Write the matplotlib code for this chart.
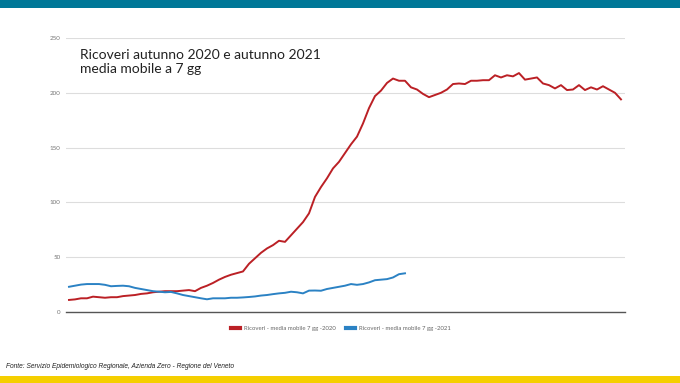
import matplotlib.pyplot as plt
import matplotlib.patches as mpatches
from matplotlib.lines import Line2D
import numpy as np

# media mobile 7 gg, ricoveri
ric2020 = [11, 11.5, 12.5, 12.5, 14, 13.5, 13, 13.5, 13.5, 14.5,
           15, 15.5, 16.5, 17, 18, 18.5, 19, 19, 19, 19.5,
           20, 19, 22, 24, 26.5, 29.5, 32, 34, 35.5, 37,
           44, 49, 54, 58, 61, 65, 64, 70, 76, 82,
           90, 105, 114, 122, 131, 137, 145, 153, 160, 172,
           186, 197, 202, 209, 213, 211, 211, 205, 203, 199,
           196, 198, 200, 203, 208, 208.5, 208, 211, 211, 211.5,
           211.5, 216, 214, 216, 215, 218, 212, 213, 214, 208.5,
           207, 204, 207, 202.5, 203, 207, 202.5, 205, 203, 206,
           203, 200, 194]
ric2021 = [23, 24, 25, 25.5, 25.5, 25.5, 24.8, 23.5, 23.8, 24,
           23.5, 22, 21, 20, 19, 18.5, 18, 18.3, 17, 15.5,
           14.5, 13.5, 12.5, 11.6, 12.5, 12.5, 12.5, 13, 13, 13.3,
           13.7, 14.2, 15, 15.5, 16.3, 17, 17.5, 18.5, 18, 17,
           19.5, 19.6, 19.4, 21, 22, 23, 24, 25.5, 24.8, 25.5,
           27, 29, 29.5, 30, 31.5, 34.5, 35.3]
series_labels = ['Ricoveri - media mobile 7 gg -2020', 'Ricoveri - media mobile 7 gg -2021']
yticks = [0, 50, 100, 150, 200, 250]

red = '#bb2025'
blue = '#2b82c4'

fig = plt.figure(figsize=(6.8, 3.83), dpi=100)
fig.patch.set_facecolor('white')

# bande superiore e inferiore
fig.add_artist(mpatches.Rectangle((0, 1 - 8/383), 1, 8/383, transform=fig.transFigure,
                                  color='#007898', lw=0))
fig.add_artist(mpatches.Rectangle((0, 0), 1, 7/383, transform=fig.transFigure,
                                  color='#f5cf00', lw=0))

ax = fig.add_axes([66/680, 71/383, 559/680, 274/383])
ax.plot(range(len(ric2020)), ric2020, color=red, lw=1.4, solid_joinstyle='round')
ax.plot(range(len(ric2021)), ric2021, color=blue, lw=1.4, solid_joinstyle='round')

ax.set_xlim(-0.5, 92.67)
ax.set_ylim(0, 250)
ax.set_yticks(yticks)
ax.set_yticklabels([str(t) for t in yticks], fontsize=4.5, color='#777777', family='Lato')
ax.set_xticks([])
ax.tick_params(axis='y', length=0, pad=4)
ax.grid(axis='y', color='#dddddd', lw=0.8)
ax.set_axisbelow(True)
for s in ['top', 'right', 'left']:
    ax.spines[s].set_visible(False)
ax.spines['bottom'].set_color('#555555')
ax.spines['bottom'].set_linewidth(1.0)

fig.text(80/680, 1 - 49/383, 'Ricoveri autunno 2020 e autunno 2021\nmedia mobile a 7 gg',
         fontsize=10, family='Lato', color='#222222', va='top', ha='left', linespacing=1.2)

handles = [Line2D([0], [0], color=red, lw=3), Line2D([0], [0], color=blue, lw=3)]
fig.legend(handles, series_labels, loc='center', bbox_to_anchor=(341/680, 1 - 328/383),
           ncol=2, frameon=False, handlelength=1.6, handletextpad=0.7, columnspacing=1.6,
           labelcolor='#666666', prop={'family': 'Lato', 'size': 4.3})

fig.text(6/680, 1 - 366/383,
         'Fonte: Servizio Epidemiologico Regionale, Azienda Zero - Regione del Veneto',
         fontsize=4.8, style='italic', family='Liberation Sans',
         color='#222222', va='center', ha='left')

fig.savefig('out.png', dpi=100)
